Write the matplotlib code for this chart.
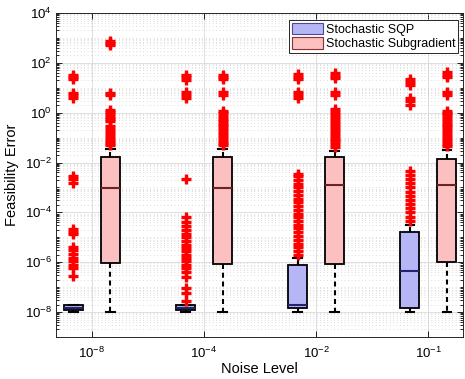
import numpy as np
import matplotlib.pyplot as plt
from matplotlib.patches import Patch
from matplotlib.ticker import FixedLocator, LogLocator, NullFormatter

plt.rcParams['font.family'] = ['Liberation Sans', 'DejaVu Sans']
plt.rcParams['mathtext.fontset'] = 'custom'
plt.rcParams['mathtext.rm'] = 'Liberation Sans'
plt.rcParams['mathtext.it'] = 'Liberation Sans:italic'

# noise levels on the x axis
noise_labels = ['$10^{-8}$', '$10^{-4}$', '$10^{-2}$', '$10^{-1}$']

# --- Stochastic SQP: box statistics per noise level ---
sqp_whislo = [1.0e-8, 1.0e-8, 1.0e-8, 1.0e-8]
sqp_q1 = [1.2e-8, 1.25e-8, 1.45e-8, 1.45e-8]
sqp_med = [1.5e-8, 1.5e-8, 1.9e-8, 4.6e-7]
sqp_q3 = [1.85e-8, 1.85e-8, 7.5e-7, 1.6e-5]
sqp_whishi = [2.0e-8, 2.0e-8, 1.5e-6, 3.0e-5]
sqp_fliers = [
    [2.7e-7, 6e-7, 8e-7, 1.1e-6, 1.5e-6, 2.2e-6, 3e-6, 4.2e-6,
     1.3e-5, 1.7e-5, 2.2e-5, 1.5e-3, 2.2e-3, 3.0e-3, 3.8, 5.0, 6.2, 22, 27, 33],
    [2.8e-8, 6e-8, 9e-8, 2.6e-7, 4e-7, 6e-7, 8e-7, 1.1e-6, 1.5e-6, 2e-6,
     2.8e-6, 3.8e-6, 5e-6, 7e-6, 1e-5, 1.4e-5, 2e-5, 2.8e-5, 4e-5, 6.5e-5,
     2.2e-3, 3.8, 5.0, 6.5, 20, 26, 34],
    [2.0e-6, 2.8e-6, 4e-6, 5.5e-6, 8e-6, 1.1e-5, 1.6e-5, 2.3e-5, 3.2e-5,
     4.5e-5, 6.5e-5, 9e-5, 1.3e-4, 1.8e-4, 2.5e-4, 3.5e-4, 5e-4, 7e-4,
     1e-3, 1.4e-3, 2e-3, 2.8e-3, 3.6e-3, 3.8, 5.0, 6.5, 22, 28, 36],
    [4.5e-5, 6.5e-5, 1e-4, 1.5e-4, 2.2e-4, 3.2e-4, 4.5e-4, 6.5e-4, 1e-3,
     1.5e-3, 2.2e-3, 3.2e-3, 4.6e-3, 2.1, 2.9, 4.0, 13, 17, 23],
]

# --- Stochastic Subgradient: box statistics per noise level ---
sub_whislo = [1.0e-8, 1.0e-8, 1.0e-8, 1.0e-8]
sub_q1 = [9.0e-7, 8.7e-7, 8.7e-7, 1.05e-6]
sub_med = [9.5e-4, 9.5e-4, 1.2e-3, 1.2e-3]
sub_q3 = [1.6e-2, 1.6e-2, 1.6e-2, 1.4e-2]
sub_whishi = [3.5e-2, 3.5e-2, 3.0e-2, 3.2e-2]
sub_fliers = [
    [5e-2, 6e-2, 7.5e-2, 0.1, 0.13, 0.17, 0.22, 0.28, 0.45, 0.55, 0.7, 0.85,
     1.05, 1.3, 5.0, 6.2, 520, 620, 720],
    [5e-2, 6e-2, 7.5e-2, 0.1, 0.13, 0.17, 0.22, 0.28, 0.36, 0.45, 0.58, 0.75,
     0.95, 1.2, 5.0, 6.5, 22, 28, 34],
    [4.2e-2, 5.5e-2, 7e-2, 0.09, 0.12, 0.16, 0.21, 0.27, 0.35, 0.45, 0.6,
     0.8, 1.05, 1.4, 5.0, 6.5, 24, 31, 40],
    [4.5e-2, 5.8e-2, 7.5e-2, 0.1, 0.13, 0.17, 0.22, 0.28, 0.36, 0.46, 0.6,
     0.78, 1.0, 1.2, 5.2, 7.0, 26, 34, 44],
]

sqp_face, sqp_med_col = '#b6b6f6', '#23236b'
sub_face, sub_med_col = '#fcc0c0', '#6e2222'


def make_stats(lo, q1, med, q3, hi, fl):
    return [dict(whislo=lo[i], q1=q1[i], med=med[i], q3=q3[i], whishi=hi[i],
                 fliers=fl[i]) for i in range(len(med))]


fig = plt.figure(figsize=(4.65, 3.79), dpi=100)
ax = fig.add_axes([56 / 465, 1 - 337 / 379, 407 / 465, 324 / 379])

centers = np.arange(1, len(noise_labels) + 1)
offset = 0.165
bw = 0.17

common = dict(widths=bw, patch_artist=True, capwidths=0.075,
              whiskerprops=dict(color='black', linewidth=1.5, linestyle=(0, (2.4, 1.8))),
              capprops=dict(color='black', linewidth=1.5),
              flierprops=dict(marker='+', markeredgecolor='red', markersize=7,
                              markeredgewidth=2.4, linestyle='none'),
              manage_ticks=False, zorder=3)

ax.bxp(make_stats(sqp_whislo, sqp_q1, sqp_med, sqp_q3, sqp_whishi, sqp_fliers),
       positions=centers - offset,
       boxprops=dict(facecolor=sqp_face, edgecolor='black', linewidth=1.3),
       medianprops=dict(color=sqp_med_col, linewidth=1.5), **common)
ax.bxp(make_stats(sub_whislo, sub_q1, sub_med, sub_q3, sub_whishi, sub_fliers),
       positions=centers + offset,
       boxprops=dict(facecolor=sub_face, edgecolor='black', linewidth=1.3),
       medianprops=dict(color=sub_med_col, linewidth=1.5), **common)

ax.set_yscale('log')
ax.set_ylim(1e-9, 1e4)
ax.set_xlim(0.68, 4.31)
ax.yaxis.set_major_locator(FixedLocator([10.0 ** k for k in range(-8, 5, 2)]))
ax.yaxis.set_minor_locator(LogLocator(base=10, subs=np.arange(1, 10), numticks=40))
ax.yaxis.set_minor_formatter(NullFormatter())
ax.set_xticks(centers)
ax.set_xticklabels(noise_labels)

ax.tick_params(axis='both', which='both', direction='in', top=True, right=True,
               labelsize=9.5, width=0.6)
ax.tick_params(axis='y', which='major', length=4, pad=3)
ax.tick_params(axis='y', which='minor', length=2)
ax.tick_params(axis='x', which='major', length=4, pad=6)

ax.grid(True, which='major', color='#dedede', linewidth=0.7, linestyle='-', zorder=0)
ax.grid(True, which='minor', axis='y', color='#bdbdbd', linewidth=0.5,
        linestyle=(0, (1, 4)), zorder=0)
ax.set_axisbelow(True)
for s in ax.spines.values():
    s.set_linewidth(0.7)
    s.set_color('#262626')

ax.set_xlabel('Noise Level', fontsize=10.5, labelpad=1)
ax.set_ylabel('Feasibility Error', fontsize=10.5, labelpad=4)

handles = [Patch(facecolor=sqp_face, edgecolor='#4a4a9a', linewidth=0.8, label='Stochastic SQP'),
           Patch(facecolor=sub_face, edgecolor='#8a3030', linewidth=0.8, label='Stochastic Subgradient')]
leg = ax.legend(handles=handles, loc='upper right', fontsize=9, fancybox=False,
                framealpha=1, edgecolor='#262626', borderpad=0.2, handlelength=2.5,
                handleheight=1.0, handletextpad=0.25, labelspacing=0.15,
                borderaxespad=0, bbox_to_anchor=(0.988, 0.978))
leg.get_frame().set_linewidth(0.7)

fig.savefig('out.png', dpi=100)
